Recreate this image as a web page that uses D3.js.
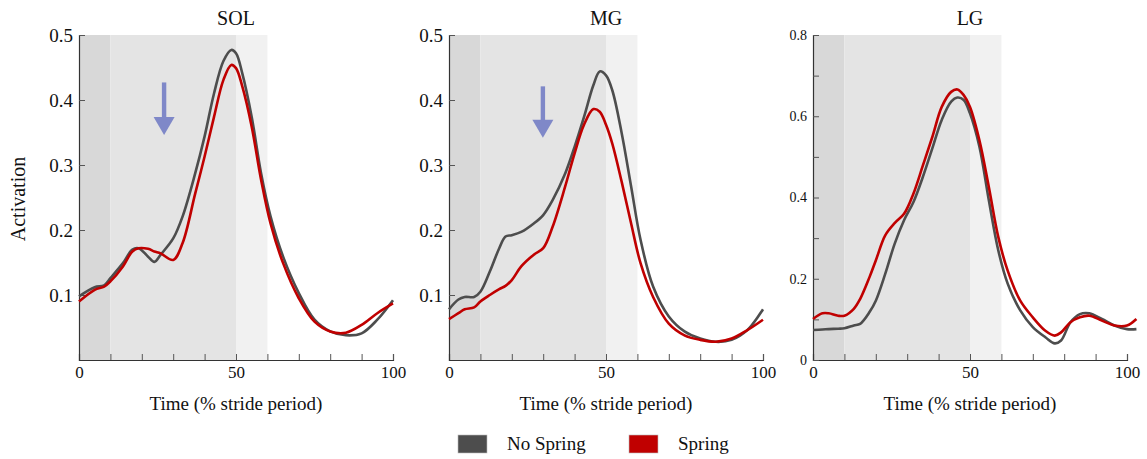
<!DOCTYPE html>
<html>
<head>
<meta charset="utf-8">
<script src="https://cdn.jsdelivr.net/npm/d3@7"></script>
<style>
  body { margin: 0; background: #fff; }
  text { font-family: "Liberation Serif", "Times New Roman", serif; fill: #111; }
</style>
</head>
<body>
<script>
// ---- data ----
const solTime = [0, 5, 8, 10, 14, 17, 19, 22, 24, 26, 30, 33, 37, 40, 43, 46, 48.5, 50, 52, 55, 58, 61, 65, 70, 75, 80, 85, 90, 95, 100];
const solNoSpring = [0.098, 0.112, 0.115, 0.126, 0.149, 0.170, 0.172, 0.159, 0.151, 0.162, 0.187, 0.221, 0.287, 0.344, 0.410, 0.460, 0.477, 0.472, 0.441, 0.374, 0.287, 0.221, 0.159, 0.103, 0.062, 0.044, 0.038, 0.041, 0.062, 0.092];
const solSpring = [0.090, 0.108, 0.113, 0.121, 0.144, 0.167, 0.172, 0.171, 0.167, 0.164, 0.154, 0.180, 0.256, 0.313, 0.374, 0.431, 0.454, 0.449, 0.421, 0.359, 0.277, 0.210, 0.149, 0.095, 0.059, 0.044, 0.042, 0.054, 0.072, 0.087];

const mgTime = [0, 3, 5, 8, 10, 13, 16, 18, 20, 23, 27, 30, 33, 37, 40, 43, 46, 48, 50, 52, 55, 58, 61, 65, 70, 75, 80, 85, 90, 95, 100];
const mgNoSpring = [0.078, 0.093, 0.097, 0.097, 0.105, 0.136, 0.172, 0.190, 0.192, 0.197, 0.210, 0.223, 0.246, 0.287, 0.328, 0.374, 0.423, 0.444, 0.438, 0.415, 0.349, 0.267, 0.185, 0.113, 0.067, 0.044, 0.033, 0.028, 0.031, 0.046, 0.078];
const mgSpring = [0.063, 0.072, 0.078, 0.081, 0.090, 0.100, 0.109, 0.114, 0.123, 0.144, 0.162, 0.172, 0.205, 0.267, 0.318, 0.362, 0.386, 0.382, 0.362, 0.333, 0.274, 0.210, 0.149, 0.097, 0.056, 0.038, 0.031, 0.028, 0.033, 0.046, 0.062];

const lgTime = [0, 3, 5, 8, 10, 13, 15, 18, 20, 23, 26, 29, 32, 35, 38, 41, 44, 46, 48, 50, 53, 56, 59, 62, 66, 70, 74, 77, 79, 82, 85, 88, 92, 96, 100, 103];
const lgNoSpring = [0.074, 0.075, 0.076, 0.077, 0.078, 0.085, 0.089, 0.118, 0.146, 0.212, 0.286, 0.344, 0.389, 0.451, 0.521, 0.591, 0.636, 0.646, 0.640, 0.607, 0.525, 0.393, 0.270, 0.188, 0.122, 0.081, 0.056, 0.041, 0.048, 0.093, 0.113, 0.115, 0.101, 0.085, 0.076, 0.076];
const lgSpring = [0.101, 0.115, 0.115, 0.109, 0.109, 0.126, 0.150, 0.204, 0.245, 0.307, 0.337, 0.360, 0.410, 0.479, 0.549, 0.623, 0.660, 0.666, 0.652, 0.623, 0.541, 0.426, 0.303, 0.220, 0.146, 0.105, 0.072, 0.060, 0.068, 0.093, 0.105, 0.109, 0.097, 0.085, 0.085, 0.101];

const seriesNames = ["No Spring", "Spring"];
const seriesColors = ["#4d4d4d", "#c00000"];
// gait phase bands (% stride)
const phaseBands = [[0, 10, "#d8d8d8"], [10, 50, "#e4e4e4"], [50, 60, "#f1f1f1"]];
// arrows [time, top value, tip value]
const arrows = [[27.1, 0.427, 0.346], [29.9, 0.421, 0.342], null];

const panels = [
  { name: "SOL", time: solTime, series: [solNoSpring, solSpring], yMax: 0.5, yTicks: [0.1, 0.2, 0.3, 0.4, 0.5], yLabels: [0.1, 0.2, 0.3, 0.4, 0.5], left: 79, yFont: 19 },
  { name: "MG", time: mgTime, series: [mgNoSpring, mgSpring], yMax: 0.5, yTicks: [0.1, 0.2, 0.3, 0.4, 0.5], yLabels: [0.1, 0.2, 0.3, 0.4, 0.5], left: 449, yFont: 19 },
  { name: "LG", time: lgTime, series: [lgNoSpring, lgSpring], yMax: 0.8, yTicks: [0, 0.1, 0.2, 0.3, 0.4, 0.5, 0.6, 0.7, 0.8], yLabels: [0, 0.2, 0.4, 0.6, 0.8], left: 813, yFont: 14 }
];

const W = 1147, H = 459;
const plotTop = 35, plotBottom = 360, plotW = 314;

const svg = d3.select("body").append("svg")
  .attr("width", W)
  .attr("height", H);

panels.forEach((p, i) => {
  const x = d3.scaleLinear().domain([0, 100]).range([p.left, p.left + plotW]);
  const y = d3.scaleLinear().domain([0, p.yMax]).range([plotBottom, plotTop]);
  const g = svg.append("g");

  // shaded phases
  g.selectAll(".band")
    .data(phaseBands)
    .enter().append("rect")
      .attr("x", d => x(d[0]))
      .attr("y", plotTop)
      .attr("width", d => x(d[1]) - x(d[0]))
      .attr("height", plotBottom - plotTop)
      .attr("fill", d => d[2]);

  // axes
  const xAxis = d3.axisBottom(x)
    .tickValues(d3.range(0, 101, 10))
    .tickSize(-6)
    .tickPadding(6)
    .tickFormat(d => (d % 50 === 0 ? d : ""));
  const gx = g.append("g")
    .attr("transform", "translate(0," + plotBottom + ")")
    .call(xAxis);
  gx.selectAll("text").style("font-size", "17px").style("font-family", "Liberation Serif");

  const yAxis = d3.axisLeft(y)
    .tickValues(p.yTicks)
    .tickSize(-6)
    .tickPadding(6)
    .tickFormat(d => (p.yLabels.some(v => Math.abs(v - d) < 1e-9) ? (d === 0 ? "0" : d3.format(".1f")(d)) : ""));
  const gy = g.append("g")
    .attr("transform", "translate(" + p.left + ",0)")
    .call(yAxis);
  gy.selectAll("text").style("font-size", p.yFont + "px").style("font-family", "Liberation Serif");

  [gx, gy].forEach(a => {
    a.select(".domain").attr("stroke", "#333").attr("stroke-width", 1.2);
    a.selectAll(".tick line").attr("stroke", "#555");
  });

  // lines
  const line = d3.line()
    .x(d => x(d[0]))
    .y(d => y(d[1]))
    .curve(d3.curveCatmullRom.alpha(0.5));

  p.series.forEach((vals, k) => {
    g.append("path")
      .datum(p.time.map((t, j) => [t, vals[j]]))
      .attr("fill", "none")
      .attr("stroke", seriesColors[k])
      .attr("stroke-width", 2.6)
      .attr("d", line);
  });

  // arrow
  const a = arrows[i];
  if (a) {
    const ax = x(a[0]), y0 = y(a[1]), y1 = y(a[2]);
    g.append("rect")
      .attr("x", ax - 2.2).attr("y", y0)
      .attr("width", 4.4).attr("height", (y1 - y0) - 16)
      .attr("fill", "#7f88c8");
    g.append("path")
      .attr("d", "M" + (ax - 10.5) + "," + (y1 - 18) + "L" + (ax + 10.5) + "," + (y1 - 18) + "L" + ax + "," + y1 + "Z")
      .attr("fill", "#7f88c8");
  }

  // title
  svg.append("text")
    .attr("x", x(50))
    .attr("y", 25)
    .attr("text-anchor", "middle")
    .style("font-size", "20px")
    .text(p.name);

  // x label
  svg.append("text")
    .attr("x", x(50))
    .attr("y", 410)
    .attr("text-anchor", "middle")
    .style("font-size", "19px")
    .text("Time (% stride period)");
});

// y label
svg.append("text")
  .attr("transform", "translate(25,199) rotate(-90)")
  .attr("text-anchor", "middle")
  .style("font-size", "20px")
  .text("Activation");

// legend
const legend = svg.append("g");
const legendX = [458, 629];
seriesNames.forEach((n, k) => {
  legend.append("rect")
    .attr("x", legendX[k]).attr("y", 435)
    .attr("width", 29).attr("height", 18)
    .attr("fill", seriesColors[k])
    .attr("stroke", "#bbb").attr("stroke-width", 0.6);
  legend.append("text")
    .attr("x", legendX[k] + 49).attr("y", 450)
    .style("font-size", "19px")
    .text(n);
});
</script>
</body>
</html>
